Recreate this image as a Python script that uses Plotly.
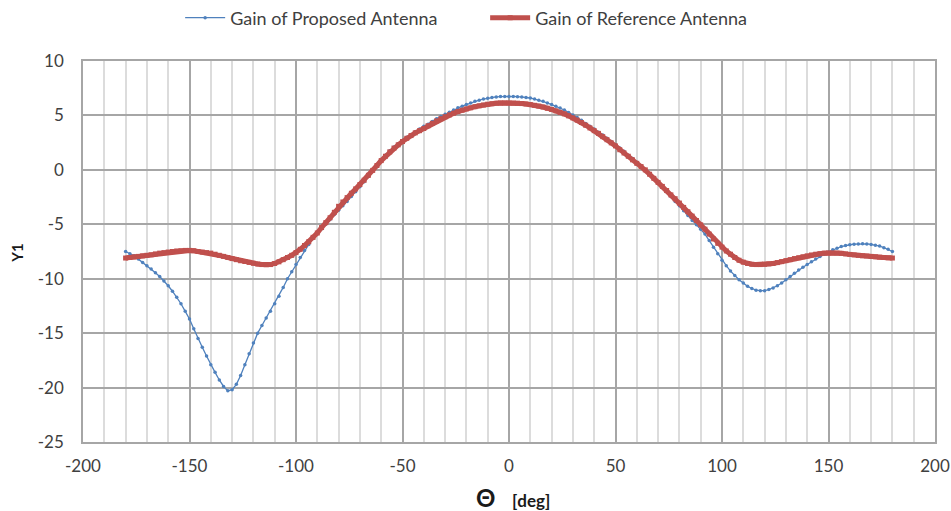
import plotly.graph_objects as go

# Elevation angle samples, degrees
theta_deg = list(range(-180, 181, 2))

gain_proposed = [
    -7.5, -7.7, -7.9, -8.2, -8.5, -8.8, -9.1, -9.45, -9.8, -10.2,
    -10.65, -11.15, -11.7, -12.3, -13.0, -13.7, -14.6, -15.5, -16.3, -17.1,
    -17.9, -18.6, -19.3, -19.9, -20.3, -20.2, -19.7, -18.9, -17.9, -16.9,
    -15.9, -15.0, -14.3, -13.6, -13.0, -12.3, -11.6, -10.8, -10.0, -9.35,
    -8.7, -8.05, -7.4, -6.85, -6.3, -5.85, -5.4, -5.0, -4.55, -4.1,
    -3.7, -3.3, -2.9, -2.45, -2.0, -1.55, -1.1, -0.6, -0.1, 0.4,
    0.9, 1.35, 1.75, 2.1, 2.4, 2.7, 3.0, 3.25, 3.5, 3.75,
    4.0, 4.2, 4.45, 4.7, 4.9, 5.1, 5.3, 5.5, 5.7, 5.85,
    6.0, 6.15, 6.3, 6.4, 6.5, 6.58, 6.65, 6.7, 6.73, 6.75,
    6.75,
    6.74, 6.72, 6.7, 6.65, 6.6, 6.5, 6.4, 6.3, 6.15, 6.0,
    5.85, 5.68, 5.5, 5.28, 5.05, 4.8, 4.55, 4.25, 4.0, 3.75,
    3.45, 3.2, 2.9, 2.6, 2.3, 2.0, 1.7, 1.35, 1.05, 0.7,
    0.35, 0.0, -0.4, -0.8, -1.2, -1.6, -2.0, -2.45, -2.9, -3.3,
    -3.75, -4.2, -4.65, -5.05, -5.45, -5.9, -6.5, -7.1, -7.7, -8.3,
    -8.8, -9.3, -9.7, -10.1, -10.4, -10.7, -10.9, -11.05, -11.1, -11.1,
    -11.0, -10.85, -10.65, -10.4, -10.1, -9.8, -9.5, -9.2, -8.95, -8.7,
    -8.45, -8.2, -7.95, -7.75, -7.55, -7.35, -7.2, -7.05, -6.95, -6.88,
    -6.83, -6.8, -6.78, -6.8, -6.85, -6.92, -7.0, -7.15, -7.3, -7.5,
]

gain_reference = [
    -8.1, -8.05, -8.0, -7.95, -7.9, -7.85, -7.8, -7.72, -7.65, -7.6,
    -7.55, -7.5, -7.45, -7.42, -7.4, -7.4, -7.43, -7.5, -7.55, -7.6,
    -7.65, -7.75, -7.85, -7.95, -8.05, -8.15, -8.25, -8.35, -8.42, -8.5,
    -8.58, -8.65, -8.7, -8.72, -8.7, -8.6, -8.45, -8.25, -8.05, -7.85,
    -7.6, -7.3, -6.95, -6.6, -6.2, -5.8, -5.3, -4.85, -4.4, -3.9,
    -3.35, -2.95, -2.55, -2.15, -1.75, -1.35, -0.95, -0.5, -0.05, 0.4,
    0.85, 1.25, 1.65, 2.0, 2.3, 2.6, 2.9, 3.15, 3.4, 3.6,
    3.8, 4.05, 4.28, 4.5, 4.7, 4.88, 5.05, 5.2, 5.35, 5.48,
    5.6, 5.7, 5.8, 5.88, 5.96, 6.03, 6.08, 6.12, 6.14, 6.15,
    6.15,
    6.14, 6.12, 6.09, 6.05, 6.0, 5.93, 5.86, 5.77, 5.66, 5.55,
    5.42, 5.28, 5.14, 4.96, 4.77, 4.57, 4.35, 4.1, 3.85, 3.6,
    3.35, 3.05, 2.77, 2.48, 2.2, 1.85, 1.55, 1.25, 0.92, 0.6,
    0.3, 0.0, -0.4, -0.78, -1.15, -1.52, -1.9, -2.3, -2.65, -3.05,
    -3.45, -3.85, -4.25, -4.65, -5.05, -5.45, -5.9, -6.35, -6.75, -7.1,
    -7.45, -7.75, -8.05, -8.3, -8.48, -8.6, -8.67, -8.7, -8.7, -8.68,
    -8.64, -8.6, -8.52, -8.43, -8.34, -8.25, -8.15, -8.07, -7.98, -7.9,
    -7.82, -7.75, -7.7, -7.65, -7.63, -7.63, -7.64, -7.67, -7.72, -7.77,
    -7.82, -7.86, -7.9, -7.92, -7.95, -7.98, -8.02, -8.05, -8.08, -8.1,
]

assert len(gain_proposed) == len(theta_deg) == len(gain_reference)

# Axis ticks (labels written with a plain hyphen)
x_tick_vals = [-200, -150, -100, -50, 0, 50, 100, 150, 200]
x_tick_text = ["-200", "-150", "-100", "-50", "0", "50", "100", "150", "200"]
y_tick_vals = [10, 5, 0, -5, -10, -15, -20, -25]
y_tick_text = ["10", "5", "0", "-5", "-10", "-15", "-20", "-25"]

FONT = "Lato, 'Open Sans', sans-serif"
TICK_COLOR = "#404040"

fig = go.Figure()

fig.add_trace(go.Scatter(
    x=theta_deg, y=gain_proposed,
    name="Gain of Proposed Antenna",
    mode="lines+markers",
    line=dict(color="#4F81BD", width=1.3),
    marker=dict(symbol="circle", size=3.5, color="#4F81BD"),
))

fig.add_trace(go.Scatter(
    x=theta_deg, y=gain_reference,
    name="Gain of Reference Antenna",
    mode="lines+markers",
    line=dict(color="#C0504D", width=5),
    marker=dict(symbol="square", size=5, color="#C0504D"),
))

fig.update_layout(
    width=951, height=511,
    margin=dict(l=83, r=16, t=61, b=69, autoexpand=False),
    paper_bgcolor="white",
    plot_bgcolor="white",
    font=dict(family=FONT, size=17, color=TICK_COLOR),
    showlegend=True,
    legend=dict(
        orientation="h",
        x=0.472, xanchor="center",
        y=1.113, yanchor="middle",
        font=dict(family=FONT, size=18, color="#404040"),
        itemwidth=40,
        entrywidth=250,
        tracegroupgap=0,
        bgcolor="rgba(0,0,0,0)",
    ),
    xaxis=dict(
        range=[-200, 200],
        tickmode="array",
        tickvals=x_tick_vals,
        ticktext=x_tick_text,
        showgrid=True,
        gridcolor="#a6a6a6",
        gridwidth=1.5,
        zeroline=False,
        showline=True,
        linecolor="#a6a6a6",
        linewidth=1.5,
        mirror=True,
        ticks="",
        ticklabelstandoff=8,
        tickfont=dict(family=FONT, size=17, color=TICK_COLOR),
        minor=dict(dtick=10, tick0=0, showgrid=True, gridcolor="#dcdcdc", gridwidth=2),
    ),
    yaxis=dict(
        range=[-25, 10],
        tickmode="array",
        tickvals=y_tick_vals,
        ticktext=y_tick_text,
        showgrid=True,
        gridcolor="#a6a6a6",
        gridwidth=1.5,
        zeroline=False,
        showline=True,
        linecolor="#a6a6a6",
        linewidth=1.5,
        mirror=True,
        ticks="",
        ticklabelstandoff=14,
        tickfont=dict(family=FONT, size=17, color=TICK_COLOR),
    ),
)

# Axis titles
fig.add_annotation(
    xref="paper", yref="paper",
    x=-0.077, y=0.495, xanchor="center", yanchor="middle",
    text="<b>Y1</b>", textangle=-90,
    showarrow=False,
    font=dict(family=FONT, size=15, color="#1a1a1a"),
)
fig.add_annotation(
    xref="paper", yref="paper",
    x=0.505, y=-0.145, xanchor="center", yanchor="middle",
    text="<b><span style='font-size:24px'>Θ</span>&nbsp;&nbsp;&nbsp;&nbsp;[deg]</b>",
    showarrow=False,
    font=dict(family=FONT, size=17, color="#1a1a1a"),
)

fig.write_html("out.html")
